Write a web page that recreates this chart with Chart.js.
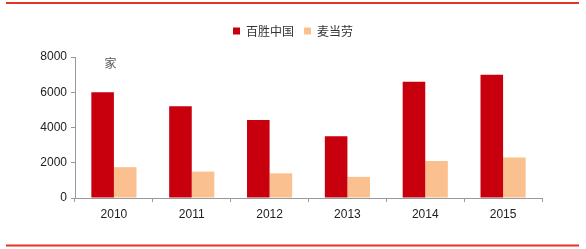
<!DOCTYPE html>
<html><head><meta charset="utf-8">
<script src="https://cdn.jsdelivr.net/npm/chart.js@4"></script>
<style>html,body{margin:0;padding:0;background:#fff}#wrap{width:586px;height:249px;position:relative}</style>
</head><body><div id="wrap"><canvas id="c" width="586" height="249"></canvas></div>
<script>
const categories = ['2010','2011','2012','2013','2014','2015'];
const yumChina = [6000, 5200, 4430, 3500, 6600, 7000];
const mcdonalds = [1750, 1500, 1400, 1200, 2100, 2300];
const seriesNames = ['百胜中国', '麦当劳'];
const unitLabel = '家';

const deco = {
  id: 'deco',
  afterDraw(chart) {
    const ctx = chart.ctx;
    ctx.save();
    ctx.strokeStyle = '#e53222';
    ctx.lineWidth = 2;
    ctx.beginPath(); ctx.moveTo(6, 3); ctx.lineTo(579, 3); ctx.stroke();
    ctx.beginPath(); ctx.moveTo(6, 245.5); ctx.lineTo(579, 245.5); ctx.stroke();
    ctx.fillStyle = '#555';
    ctx.font = '12px "Noto Sans CJK SC"';
    ctx.textAlign = 'center'; ctx.textBaseline = 'middle';
    const x = chart.scales.x.getPixelForValue(0) - 3.5;
    const y = chart.scales.y.getPixelForValue(7630);
    ctx.fillText(unitLabel, x, y);
    ctx.restore();
  }
};

new Chart(document.getElementById('c'), {
  type: 'bar',
  data: {
    labels: categories,
    datasets: [
      { label: seriesNames[0], data: yumChina, backgroundColor: '#c8000e', borderWidth: 0 },
      { label: seriesNames[1], data: mcdonalds, backgroundColor: '#fac08f', borderWidth: 0 }
    ]
  },
  options: {
    responsive: false,
    animation: false,
    devicePixelRatio: 1,
    layout: { padding: { left: 0, right: 0, top: 15, bottom: 0 } },
    datasets: { bar: { categoryPercentage: 0.58, barPercentage: 1.0 } },
    plugins: {
      legend: {
        display: true, position: 'top',
        labels: { boxWidth: 7, boxHeight: 7, padding: 10, color: '#333',
          font: { family: '"Noto Sans CJK SC"', size: 12 } }
      },
      title: { display: true, text: '', weight: 500, font: { size: 1, lineHeight: 1 }, padding: { top: 0, bottom: 9 } },
      tooltip: { enabled: false }
    },
    scales: {
      x: {
        grid: { display: true, drawOnChartArea: false, drawTicks: true, tickLength: 4, color: '#999', offset: true },
        border: { color: '#999', width: 1 },
        ticks: { color: '#222', font: { family: '"Liberation Sans", Arial', size: 12 }, padding: 5 },
        afterFit(s) { s.height = 51; }
      },
      y: {
        min: 0, max: 8000,
        grid: { display: true, drawOnChartArea: false, drawTicks: true, tickLength: 4, color: '#999' },
        border: { color: '#999', width: 1 },
        ticks: { stepSize: 2000, color: '#222', font: { family: '"Liberation Sans", Arial', size: 12 }, padding: 4,
          callback: (v) => String(v) },
        afterFit(s) { s.width = 75; }
      },
      yr: {
        position: 'right', display: true,
        grid: { display: false }, border: { display: false },
        ticks: { display: false },
        afterFit(s) { s.width = 44; }
      }
    }
  },
  plugins: [deco]
});
</script></body></html>
